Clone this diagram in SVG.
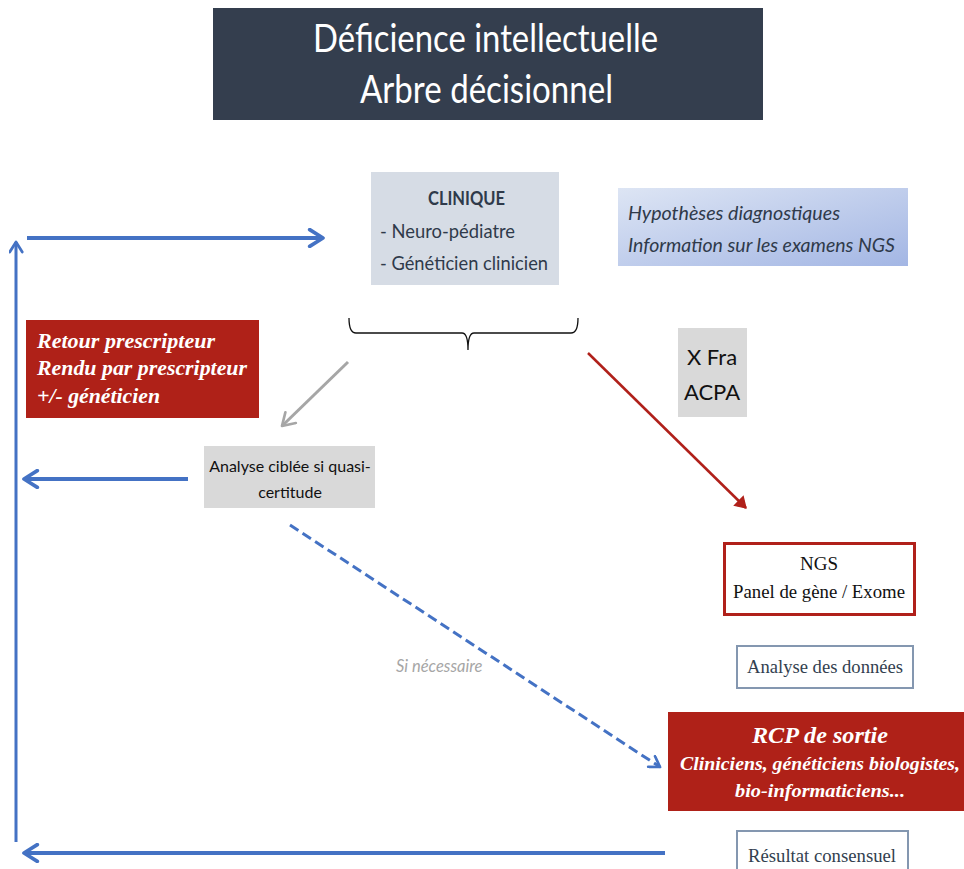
<svg xmlns="http://www.w3.org/2000/svg" width="964" height="869" viewBox="0 0 964 869">
<defs>
<linearGradient id="hyp" x1="0" y1="0" x2="1" y2="1">
<stop offset="0" stop-color="#dde5f4"/>
<stop offset="1" stop-color="#a3b6e4"/>
</linearGradient>
<marker id="chevBlue" viewBox="0 0 12 12" refX="10" refY="6" markerWidth="5" markerHeight="5" orient="auto" markerUnits="strokeWidth">
<path d="M2,1 L10,6 L2,11" fill="none" stroke="#4472c4" stroke-width="2.2" stroke-linecap="round" stroke-linejoin="round"/>
</marker>
<marker id="chevGray" viewBox="0 0 12 12" refX="10" refY="6" markerWidth="6" markerHeight="6" orient="auto" markerUnits="strokeWidth">
<path d="M2,1 L10,6 L2,11" fill="none" stroke="#a6a6a6" stroke-width="1.8" stroke-linecap="round" stroke-linejoin="round"/>
</marker>
<marker id="chevRed" viewBox="0 0 12 12" refX="10" refY="6" markerWidth="6" markerHeight="6" orient="auto" markerUnits="strokeWidth">
<path d="M2,1 L10,6 L2,11 Z" fill="#b0201a" stroke="#b0201a" stroke-width="1"/>
</marker>
</defs>
<style>
.sans{font-family:Lato,"Open Sans","Noto Sans",sans-serif;}
.serif{font-family:"Liberation Serif","DejaVu Serif",serif;}
.wbi{fill:#ffffff;font-weight:bold;font-style:italic;}
.conn{fill:none;stroke-linecap:butt;}
</style>
<rect width="964" height="869" fill="#ffffff"/>

<g id="title">
<rect x="213" y="8" width="550" height="112" fill="#343e4e"/>
<text class="sans" x="313" y="52" font-size="38" fill="#ffffff" textLength="345" lengthAdjust="spacingAndGlyphs">Déficience intellectuelle</text>
<text class="sans" x="360" y="103" font-size="38" fill="#ffffff" textLength="253" lengthAdjust="spacingAndGlyphs">Arbre décisionnel</text>
</g>

<g id="clinique">
<rect x="371" y="172" width="188" height="113" fill="#d6dce5"/>
<text class="sans" x="428" y="205" font-size="19" font-weight="bold" fill="#2f3a4a" textLength="77" lengthAdjust="spacingAndGlyphs">CLINIQUE</text>
<text class="sans" x="380" y="238" font-size="19" fill="#2f3a4a" textLength="135" lengthAdjust="spacingAndGlyphs">- Neuro-pédiatre</text>
<text class="sans" x="380" y="270" font-size="19" fill="#2f3a4a" textLength="168" lengthAdjust="spacingAndGlyphs">- Généticien clinicien</text>
</g>

<g id="hypotheses">
<rect x="618" y="188" width="290" height="78" fill="url(#hyp)"/>
<text class="sans" x="628" y="220" font-size="19" font-style="italic" fill="#2f3a4a" textLength="212" lengthAdjust="spacingAndGlyphs">Hypothèses diagnostiques</text>
<text class="sans" x="628" y="252" font-size="19" font-style="italic" fill="#2f3a4a" textLength="267" lengthAdjust="spacingAndGlyphs">Information sur les examens NGS</text>
</g>

<g id="retour">
<rect x="26" y="320" width="233" height="98" fill="#af2118"/>
<text class="serif wbi" x="37" y="348" font-size="21" textLength="178" lengthAdjust="spacingAndGlyphs">Retour prescripteur</text>
<text class="serif wbi" x="37" y="375" font-size="21" textLength="210" lengthAdjust="spacingAndGlyphs">Rendu par prescripteur</text>
<text class="serif wbi" x="37" y="403" font-size="21" textLength="123" lengthAdjust="spacingAndGlyphs">+/- généticien</text>
</g>

<g id="analyse-ciblee">
<rect x="204" y="446" width="171" height="62" fill="#d9d9d9"/>
<text class="sans" x="290" y="472" font-size="16" fill="#111111" text-anchor="middle">Analyse ciblée si quasi-</text>
<text class="sans" x="290" y="498" font-size="16" fill="#111111" text-anchor="middle">certitude</text>
</g>

<g id="xfra">
<rect x="678" y="328" width="69" height="89" fill="#d9d9d9"/>
<text class="sans" x="712" y="365" font-size="22" fill="#111111" text-anchor="middle">X Fra</text>
<text class="sans" x="712" y="400" font-size="22" fill="#111111" text-anchor="middle">ACPA</text>
</g>

<g id="ngs">
<rect x="724.500" y="543.500" width="190" height="71" fill="#ffffff" stroke="#b0201a" stroke-width="3"/>
<text class="serif" x="819" y="570" font-size="19" fill="#111111" text-anchor="middle">NGS</text>
<text class="serif" x="819" y="598" font-size="19" fill="#111111" text-anchor="middle" textLength="172" lengthAdjust="spacingAndGlyphs">Panel de gène / Exome</text>
</g>

<g id="analyse-donnees">
<rect x="737" y="646" width="176" height="42" fill="#ffffff" stroke="#8497b0" stroke-width="2"/>
<text class="serif" x="825" y="673" font-size="19" fill="#333f50" text-anchor="middle" textLength="156" lengthAdjust="spacingAndGlyphs">Analyse des données</text>
</g>

<g id="rcp">
<rect x="668" y="712" width="296" height="99" fill="#af2118"/>
<text class="serif wbi" x="820" y="743" font-size="23" text-anchor="middle" textLength="136" lengthAdjust="spacingAndGlyphs">RCP de sortie</text>
<text class="serif wbi" x="820" y="770" font-size="19" text-anchor="middle" textLength="280" lengthAdjust="spacingAndGlyphs">Cliniciens, généticiens biologistes,</text>
<text class="serif wbi" x="820" y="797" font-size="19" text-anchor="middle" textLength="170" lengthAdjust="spacingAndGlyphs">bio-informaticiens...</text>
</g>

<g id="resultat">
<rect x="737" y="831" width="171" height="44" fill="#ffffff" stroke="#8497b0" stroke-width="2"/>
<text class="serif" x="822" y="862" font-size="19" fill="#333f50" text-anchor="middle" textLength="148" lengthAdjust="spacingAndGlyphs">Résultat consensuel</text>
</g>

<g id="connectors">
<path class="conn" d="M27,238 H323" stroke="#4472c4" stroke-width="4" marker-end="url(#chevBlue)"/>
<path class="conn" d="M16,842 V242" stroke="#4472c4" stroke-width="3" marker-end="url(#chevBlue)"/>
<path class="conn" d="M665,853 H24" stroke="#4472c4" stroke-width="4" marker-end="url(#chevBlue)"/>
<path class="conn" d="M188,479 H24" stroke="#4472c4" stroke-width="4" marker-end="url(#chevBlue)"/>
<path class="conn" d="M349,318 Q349,333 356,333 H462 Q468,333 468,350 Q468,333 474,333 H571 Q578,333 578,318" stroke="#111111" stroke-width="1.3"/>
<path class="conn" d="M348,362 L282,426" stroke="#a6a6a6" stroke-width="3" marker-end="url(#chevGray)"/>
<path class="conn" d="M588,353 L746,508" stroke="#b0201a" stroke-width="2.5" marker-end="url(#chevRed)"/>
<path class="conn" d="M290,525 L660,767" stroke="#4472c4" stroke-width="3" stroke-dasharray="10,5" marker-end="url(#chevBlue)"/>
<text class="sans" x="396" y="672" font-size="16.5" font-style="italic" fill="#a6a6a6">Si nécessaire</text>
</g>
</svg>
